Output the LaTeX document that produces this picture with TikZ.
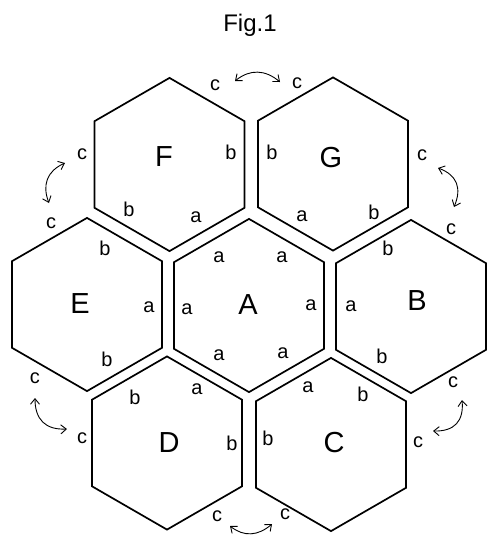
\documentclass[tikz,border=0pt]{standalone}
\usepackage{fontspec}
\setmainfont{Liberation Sans}
\usetikzlibrary{arrows.meta}
\newcommand\hexR{86.6}
\newcommand\hexat[1]{\draw[hexline] (#1) +(90:\hexR) -- +(30:\hexR) -- +(-30:\hexR) -- +(-90:\hexR) -- +(-150:\hexR) -- +(150:\hexR) -- cycle;}
\begin{document}
\begin{tikzpicture}[x=1pt,y=-1pt,
  hexline/.style={line width=1.7pt, line join=miter},
  big/.style={font=\fontsize{29}{31}\selectfont, inner sep=0pt},
  sm/.style={font=\fontsize{20}{22}\selectfont, inner sep=0pt},
  ttl/.style={font=\fontsize{24}{26}\selectfont, inner sep=0pt},
  swaparrow/.style={line width=0.9pt, {Straight Barb[length=5.5pt,width=9pt]}-{Straight Barb[length=5.5pt,width=9pt]}}]
\useasboundingbox[fill=white] (0,0) rectangle (500,547);

\node[ttl] (title) at (250,25) {Fig.1};

% hexagon centres
\coordinate (cA) at (249,305.5);
\coordinate (cB) at (411,306.5);
\coordinate (cC) at (331,444.5);
\coordinate (cD) at (167,443);
\coordinate (cE) at (87,304.5);
\coordinate (cF) at (169.5,164.5);
\coordinate (cG) at (333,164);
\foreach \h in {cA,cB,cC,cD,cE,cF,cG} {\hexat{\h}}

% big labels
\node[big] (A) at (248,305) {A};
\node[big] (B) at (417,301) {B};
\node[big] (C) at (334,443) {C};
\node[big] (D) at (169,443) {D};
\node[big] (E) at (80,304) {E};
\node[big] (F) at (164,157) {F};
\node[big] (G) at (331,158) {G};

% A
\node[sm] (Aa1) at (219,257) {a};
\node[sm] (Aa2) at (282,257) {a};
\node[sm] (Aa3) at (187,309) {a};
\node[sm] (Aa4) at (311,305) {a};
\node[sm] (Aa5) at (219,355) {a};
\node[sm] (Aa6) at (283,353) {a};
% F
\node[sm] (Fc1) at (215,85) {c};
\node[sm] (Fc2) at (82,154) {c};
\node[sm] (Fb1) at (231,152) {b};
\node[sm] (Fb2) at (129,209) {b};
\node[sm] (Fa) at (196,217) {a};
% G
\node[sm] (Gb1) at (272,152) {b};
\node[sm] (Ga) at (302,216) {a};
\node[sm] (Gb2) at (374,212) {b};
\node[sm] (Gc1) at (297,83) {c};
\node[sm] (Gc2) at (422,155) {c};
% E
\node[sm] (Ec1) at (51,223) {c};
\node[sm] (Eb1) at (105,248) {b};
\node[sm] (Ea) at (149,307) {a};
\node[sm] (Eb2) at (107,359) {b};
\node[sm] (Ec2) at (35,378) {c};
% B
\node[sm] (Bc1) at (451,229) {c};
\node[sm] (Bb1) at (388,248) {b};
\node[sm] (Ba) at (351,306) {a};
\node[sm] (Bb2) at (382,356) {b};
\node[sm] (Bc2) at (453,382) {c};
% D
\node[sm] (Db1) at (135,397) {b};
\node[sm] (Da) at (197,389) {a};
\node[sm] (Db2) at (232,443) {b};
\node[sm] (Dc1) at (217,516) {c};
\node[sm] (Dc2) at (82,438) {c};
% C
\node[sm] (Ca) at (308,387) {a};
\node[sm] (Cb1) at (363,394) {b};
\node[sm] (Cb2) at (268,438) {b};
\node[sm] (Cc1) at (285,514) {c};
\node[sm] (Cc2) at (418,442) {c};

% swap arrows
\coordinate (t1) at (235,81);  \coordinate (t2) at (280,82);
\coordinate (ul1) at (65,163); \coordinate (ul2) at (49,203);
\coordinate (ur1) at (438,168); \coordinate (ur2) at (454,207);
\coordinate (ll1) at (35,398); \coordinate (ll2) at (67,429);
\coordinate (lr1) at (462,400); \coordinate (lr2) at (433,431);
\coordinate (b1) at (230,526); \coordinate (b2) at (272,524);
\draw[swaparrow] (t1) .. controls (250,69) and (265,69.5) .. (t2);
\draw[swaparrow] (ul1) .. controls (47,171) and (42,185) .. (ul2);
\draw[swaparrow] (ur1) .. controls (457,175) and (462,188) .. (ur2);
\draw[swaparrow] (ll1) .. controls (35,419.5) and (45.5,430) .. (ll2);
\draw[swaparrow] (lr1) .. controls (464,421) and (454.5,431.5) .. (lr2);
\draw[swaparrow] (b1) .. controls (244,537) and (258,536) .. (b2);
\end{tikzpicture}
\end{document}
